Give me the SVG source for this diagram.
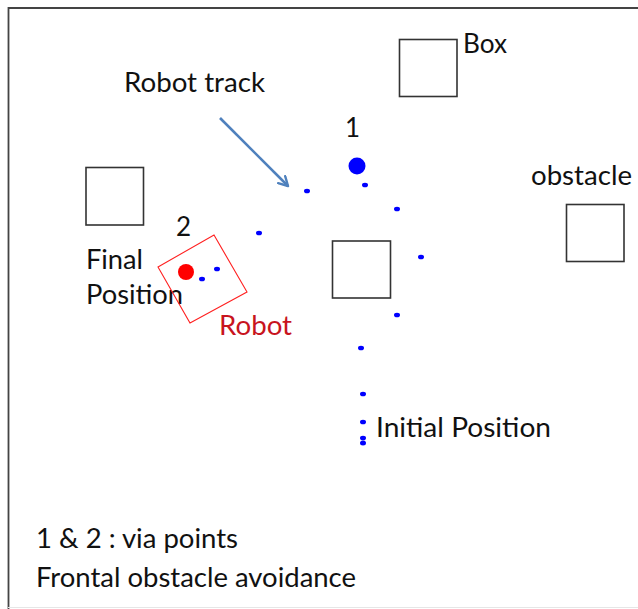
<svg xmlns="http://www.w3.org/2000/svg" width="638" height="609" viewBox="0 0 638 609">
  <style>
    .t { font-family: Lato, "Liberation Sans", sans-serif; font-size: 26px; fill: #111111; }
    .sq { fill: none; stroke: #333333; stroke-width: 1.6; }
    .dot { fill: #0000ff; }
  </style>
  <defs>
    <marker id="arr" viewBox="0 0 12 12" refX="10" refY="6" markerWidth="12" markerHeight="12" markerUnits="userSpaceOnUse" orient="auto">
      <path d="M1,1 L10,6 L1,11" fill="none" stroke="#4f81bd" stroke-width="2.4" stroke-linecap="round" stroke-linejoin="round"/>
    </marker>
  </defs>
  <rect width="638" height="609" fill="#ffffff"/>
  <g id="frame">
    <path d="M8.5,640 L8.5,8 L640,8" fill="none" stroke="#444444" stroke-width="1.8"/>
    <line x1="8" y1="607.5" x2="638" y2="607.5" stroke="#e6e6e6" stroke-width="1"/>
  </g>
  <g id="box">
    <rect class="sq" x="399.5" y="39.5" width="57.5" height="57"/>
    <text class="t" x="463" y="53" textLength="44" lengthAdjust="spacingAndGlyphs">Box</text>
  </g>
  <g id="obstacle">
    <rect class="sq" x="566.5" y="204.5" width="57.5" height="57"/>
    <text class="t" x="531" y="185" textLength="101" lengthAdjust="spacingAndGlyphs">obstacle</text>
  </g>
  <g id="left-box">
    <rect class="sq" x="86" y="167.5" width="57.5" height="57.5"/>
  </g>
  <g id="center-box">
    <rect class="sq" x="332.5" y="241" width="58" height="57"/>
  </g>
  <g id="final-position">
    <text class="t" x="86" y="269" textLength="57" lengthAdjust="spacingAndGlyphs">Final</text>
    <text class="t" x="86" y="304" textLength="97" lengthAdjust="spacingAndGlyphs">Position</text>
  </g>
  <g id="robot">
    <polygon points="158,267 214,235 247,292 190,323" fill="none" stroke="#ff2020" stroke-width="1.1"/>
    <circle cx="186" cy="272" r="8" fill="#ff0000"/>
    <text class="t" x="219" y="335" textLength="73" lengthAdjust="spacingAndGlyphs" style="fill:#c8141e">Robot</text>
  </g>
  <g id="via1">
    <circle cx="357" cy="166" r="8.5" fill="#0000ff"/>
    <text class="t" x="345" y="137">1</text>
  </g>
  <g id="via2">
    <text class="t" x="176" y="236">2</text>
  </g>
  <g id="track">
    <ellipse class="dot" cx="307" cy="191" rx="3" ry="2.3"/>
    <ellipse class="dot" cx="365" cy="185" rx="3" ry="2.3"/>
    <ellipse class="dot" cx="397" cy="209" rx="3" ry="2.3"/>
    <ellipse class="dot" cx="259" cy="233" rx="3" ry="2.3"/>
    <ellipse class="dot" cx="421" cy="257" rx="3" ry="2.3"/>
    <ellipse class="dot" cx="397" cy="315" rx="3" ry="2.3"/>
    <ellipse class="dot" cx="217" cy="269" rx="3" ry="2.3"/>
    <ellipse class="dot" cx="202" cy="279" rx="3" ry="2.3"/>
    <ellipse class="dot" cx="361" cy="348" rx="3" ry="2.3"/>
    <ellipse class="dot" cx="363" cy="394" rx="3" ry="2.3"/>
    <ellipse class="dot" cx="363" cy="422" rx="3" ry="2.3"/>
    <ellipse class="dot" cx="363" cy="438" rx="3" ry="2.3"/>
    <ellipse class="dot" cx="363" cy="443" rx="3" ry="2.5"/>
  </g>
  <g id="initial-position">
    <text class="t" x="376" y="437" textLength="175" lengthAdjust="spacingAndGlyphs">Initial Position</text>
  </g>
  <g id="robot-track-label">
    <text class="t" x="124" y="92" textLength="141" lengthAdjust="spacingAndGlyphs">Robot track</text>
  </g>
  <g id="connectors">
    <line x1="220" y1="118" x2="288" y2="186" stroke="#4f81bd" stroke-width="2.6" marker-end="url(#arr)"/>
  </g>
  <g id="legend">
    <text class="t" x="36" y="548" textLength="202" lengthAdjust="spacingAndGlyphs">1 &amp; 2 : via points</text>
    <text class="t" x="36" y="587" textLength="320" lengthAdjust="spacingAndGlyphs">Frontal obstacle avoidance</text>
  </g>
</svg>
